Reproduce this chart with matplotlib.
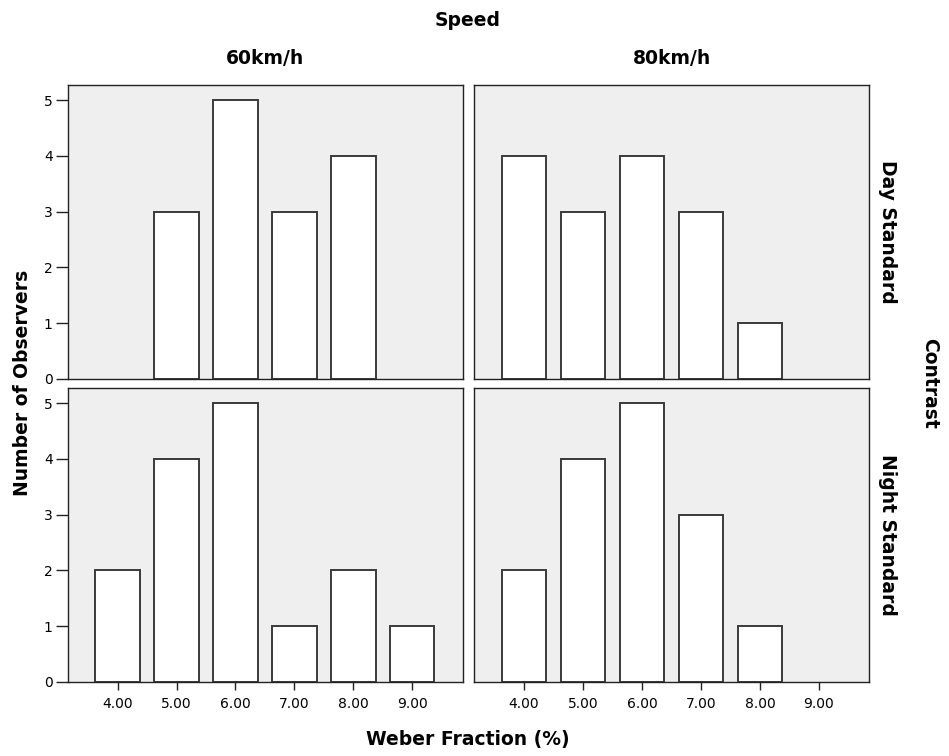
import matplotlib.pyplot as plt

plt.rcParams['font.family'] = ['DejaVu Sans']

weber = [4.0, 5.0, 6.0, 7.0, 8.0, 9.0]
tick_labels = ["4.00", "5.00", "6.00", "7.00", "8.00", "9.00"]
speeds = ["60km/h", "80km/h"]
contrasts = ["Day Standard", "Night Standard"]

day_60 = [0, 3, 5, 3, 4, 0]
day_80 = [4, 3, 4, 3, 1, 0]
night_60 = [2, 4, 5, 1, 2, 1]
night_80 = [2, 4, 5, 3, 1, 0]

counts = [[day_60, day_80], [night_60, night_80]]

fig, axes = plt.subplots(2, 2, figsize=(9.49, 7.56), dpi=100)
fig.subplots_adjust(left=68/949, right=869/949, top=1-85/756, bottom=1-682/756,
                    wspace=0.0304, hspace=0.031)

lab = dict(fontsize=13.5, fontweight="bold")

for i in range(2):
    for j in range(2):
        ax = axes[i][j]
        ax.set_facecolor("#efefef")
        vals = counts[i][j]
        xs = [x for x, v in zip(weber, vals) if v > 0]
        hs = [v for v in vals if v > 0]
        ax.bar(xs, hs, width=0.75, color="white", edgecolor="#3a3a3a", linewidth=1.4)
        ax.set_xlim(3.16, 9.85)
        ax.set_ylim(0, 5.27)
        for s in ax.spines.values():
            s.set_color("#222222")
            s.set_linewidth(1.0)
        ax.tick_params(direction="out", width=1.0, colors="#222222",
                       labelsize=10, labelcolor="black")
        ax.tick_params(axis="x", length=6, pad=5)
        ax.tick_params(axis="y", length=9, pad=2)
        ax.set_yticks([0, 1, 2, 3, 4, 5])
        ax.set_xticks(weber)
        if i == 1:
            ax.set_xticklabels(tick_labels)
        else:
            ax.tick_params(axis="x", length=0, labelbottom=False)
        if j == 1:
            ax.tick_params(axis="y", length=0, labelleft=False)
        if i == 0:
            ax.text(0.5, 1 + 27/295, speeds[j], transform=ax.transAxes,
                    ha="center", va="center", **lab)
        if j == 1:
            ax.text(1 + 19/395, 0.5, contrasts[i], transform=ax.transAxes, rotation=-90,
                    ha="center", va="center", **lab)

fig.text(468/949, 1-20/756, "Speed", ha="center", va="center", **lab)
fig.text(930/949, 1-383/756, "Contrast", ha="center", va="center", rotation=-90, **lab)
fig.text(23/949, 1-383/756, "Number of Observers", ha="center", va="center",
         rotation=90, **lab)
fig.text(468/949, 1-740/756, "Weber Fraction (%)", ha="center", va="center", **lab)

fig.savefig("out.png", dpi=100)
